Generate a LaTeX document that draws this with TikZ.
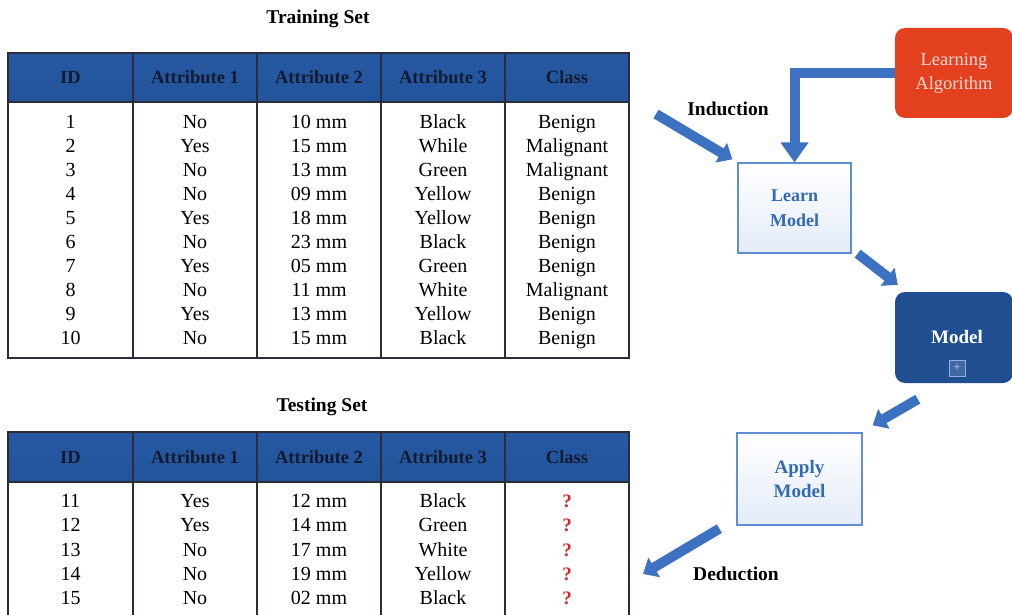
\documentclass[tikz,border=0pt]{standalone}
\usepackage{fontspec}
\setmainfont{Liberation Serif}
\usetikzlibrary{arrows.meta,calc}

\definecolor{hdrtop}{HTML}{2659A2}
\definecolor{hdrmid}{HTML}{3172BE}
\definecolor{hdrbot}{HTML}{22549B}
\definecolor{hdrtext}{HTML}{141B30}
\definecolor{gridcol}{HTML}{2A2E3A}
\definecolor{flowblue}{HTML}{3D72C2}
\definecolor{boxedge}{HTML}{5E8FD4}
\definecolor{boxtext}{HTML}{3369B6}
\definecolor{boxtint}{HTML}{E4ECF8}
\definecolor{algored}{HTML}{E2401F}
\definecolor{algotext}{HTML}{F9DCD4}
\definecolor{modelblue}{HTML}{1F4F90}
\definecolor{qred}{HTML}{E0202A}

\tikzset{
  grid/.style={draw=gridcol, line width=1.3pt},
  hdr/.style={inner sep=0pt, anchor=base, text=hdrtext, font=\fontsize{18.5}{20}\selectfont\bfseries},
  cell/.style={inner sep=0pt, anchor=base, font=\fontsize{20}{22}\selectfont},
  qmark/.style={cell, text=qred, font=\fontsize{19}{21}\selectfont\bfseries},
  heading/.style={inner sep=0pt, anchor=base, font=\fontsize{19.5}{21}\selectfont\bfseries},
  stepbox/.style={draw=boxedge, line width=1.3pt, top color=white, bottom color=boxtint,
    text=boxtext, align=center, inner sep=0pt, font=\fontsize{19}{24}\selectfont\bfseries},
  flow/.style={draw=flowblue, line width=10pt, line join=miter,
    -{Triangle[length=13pt,width=22pt]}},
  bigflow/.style={flow, -{Triangle[length=20pt,width=27pt]}},
}

\begin{document}
\begin{tikzpicture}[x=1pt, y=-1pt]
\useasboundingbox (0,0) rectangle (1012,615);
\fill[white] (0,0) rectangle (1012,615);

% ---------------- Training set ----------------
\node[heading] (traintitle) at (318,24) {Training Set};

\shade[top color=hdrtop, middle color=hdrmid, bottom color=hdrbot] (8,53) rectangle (629,102);
\draw[grid] (8,53) rectangle (629,358);
\draw[grid] (8,102) -- (629,102);
\foreach \x in {133,257,381,505} \draw[grid] (\x,53) -- (\x,358);

\foreach \t/\x [count=\i] in {ID/70.5, Attribute 1/195, Attribute 2/319, Attribute 3/443, Class/567}
  \node[hdr] (trh\i) at (\x,83.5) {\t};

\foreach \a/\b/\c/\d/\e [count=\r] in {
  1/No/10 mm/Black/Benign,
  2/Yes/15 mm/While/Malignant,
  3/No/13 mm/Green/Malignant,
  4/No/09 mm/Yellow/Benign,
  5/Yes/18 mm/Yellow/Benign,
  6/No/23 mm/Black/Benign,
  7/Yes/05 mm/Green/Benign,
  8/No/11 mm/White/Malignant,
  9/Yes/13 mm/Yellow/Benign,
  10/No/15 mm/Black/Benign}{
  \pgfmathsetmacro\yb{128.5+(\r-1)*24.05}
  \node[cell] (tr\r a) at (70.5,\yb) {\a};
  \node[cell] (tr\r b) at (195,\yb) {\b};
  \node[cell] (tr\r c) at (319,\yb) {\c};
  \node[cell] (tr\r d) at (443,\yb) {\d};
  \node[cell] (tr\r e) at (567,\yb) {\e};
}

% ---------------- Testing set ----------------
\node[heading] (testtitle) at (322,411) {Testing Set};

\shade[top color=hdrtop, middle color=hdrmid, bottom color=hdrbot] (8,432) rectangle (629,482);
\draw[grid] (8,432) rectangle (629,622);
\draw[grid] (8,482) -- (629,482);
\foreach \x in {133,257,381,505} \draw[grid] (\x,432) -- (\x,622);

\foreach \t/\x [count=\i] in {ID/70.5, Attribute 1/195, Attribute 2/319, Attribute 3/443, Class/567}
  \node[hdr] (tsh\i) at (\x,463) {\t};

\foreach \a/\b/\c/\d [count=\r] in {
  11/Yes/12 mm/Black,
  12/Yes/14 mm/Green,
  13/No/17 mm/White,
  14/No/19 mm/Yellow,
  15/No/02 mm/Black}{
  \pgfmathsetmacro\yb{507.5+(\r-1)*24.3}
  \node[cell] (ts\r a) at (70.5,\yb) {\a};
  \node[cell] (ts\r b) at (195,\yb) {\b};
  \node[cell] (ts\r c) at (319,\yb) {\c};
  \node[cell] (ts\r d) at (443,\yb) {\d};
  \node[qmark] (ts\r e) at (567,\yb) {?};
}

% ---------------- Process flow ----------------
\node[fill=algored, rounded corners=10pt, minimum width=118pt, minimum height=90pt,
      inner sep=0pt, align=center, text=algotext, font=\fontsize{18.5}{24}\selectfont]
  (algo) at (954,73) {Learning\\Algorithm};

\node[stepbox, minimum width=113pt, minimum height=90pt, font=\fontsize{18}{25}\selectfont\bfseries]
  (learn) at (794.5,208) {Learn\\Model};

\node[fill=modelblue, rounded corners=10pt, minimum width=118pt, minimum height=91pt,
      inner sep=0pt] (model) at (954,337.5) {};
\node[text=white, inner sep=0pt, font=\fontsize{19}{21}\selectfont\bfseries]
  (modeltext) at (957,337) {Model};
\node[draw=boxedge!70!white, line width=1pt, fill=modelblue!85!white, minimum size=16pt,
      inner sep=0pt, text=boxedge!60!white, font=\fontsize{13}{13}\selectfont\bfseries]
  (modelicon) at (957,368) {+};

\node[stepbox, minimum width=125pt, minimum height=92pt] (apply) at (799.5,479) {Apply\\Model};

% connectors
\coordinate (indstart) at (656,114);
\draw[flow] (indstart) -- ($(learn.north west)+(-5,-3)$);
\node[heading] (induction) at (728,116) {Induction};

\draw[bigflow] (algo.west) -| (learn.north);

\draw[flow] ($(learn.south east)+(6,0)$) -- ($(model.north west)+(3,-7)$);

\draw[flow] ($(model.south west)+(23,16)$) -- ($(apply.north east)+(10,-7)$);

\coordinate (dedend) at (643,574);
\draw[flow] ($(apply.south west)+(-17,3)$) -- (dedend);
\node[heading] (deduction) at (736,580) {Deduction};

\end{tikzpicture}
\end{document}
